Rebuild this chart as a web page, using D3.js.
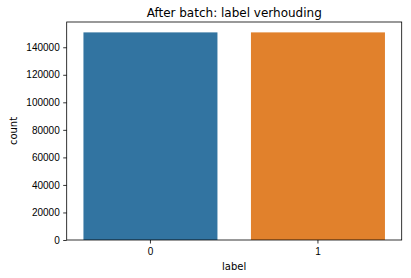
<!DOCTYPE html>
<html>
<head>
<meta charset="utf-8">
<script src="https://cdn.jsdelivr.net/npm/d3@7"></script>
<style>
    body { margin: 0; background: #fff; }
    svg { display: block; font-family: "DejaVu Sans", sans-serif; }
    .axis text { font-size: 10px; fill: #000; }
    .axis path, .axis line { stroke: #000; stroke-width: 0.8; }
</style>
</head>
<body>
<svg id="chart"></svg>
<script>
// categories and counts
const labels = ["0", "1"];
const counts = [150800, 150800];
const yTicks = [0, 20000, 40000, 60000, 80000, 100000, 120000, 140000];
const colors = ["#3274a1", "#e1812c"];

const W = 411, H = 278;
const margin = { top: 22, right: 9.3, bottom: 38, left: 66.7 };
const width = W - margin.left - margin.right;
const height = H - margin.top - margin.bottom;

const svg = d3.select("#chart").attr("width", W).attr("height", H);
const g = svg.append("g").attr("transform", `translate(${margin.left},${margin.top})`);

const x = d3.scaleBand().domain(labels).range([0, width]).paddingInner(0.2).paddingOuter(0.1);
const y = d3.scaleLinear().domain([0, d3.max(counts) * 1.05]).range([height, 0]);

// bars
g.selectAll("rect.bar")
    .data(labels)
    .enter()
    .append("rect")
    .attr("class", "bar")
    .attr("x", (d) => x(d))
    .attr("width", x.bandwidth())
    .attr("y", (d, i) => y(counts[i]))
    .attr("height", (d, i) => height - y(counts[i]))
    .attr("fill", (d, i) => colors[i]);

// axes
g.append("g")
    .attr("class", "axis")
    .attr("transform", `translate(0,${height})`)
    .call(d3.axisBottom(x).tickSize(3.5).tickPadding(3.5).tickSizeOuter(0))
    .call((a) => a.select(".domain").remove())
    .selectAll("text").attr("dy", "0.75em");

g.append("g")
    .attr("class", "axis")
    .call(d3.axisLeft(y).tickValues(yTicks).tickFormat(d3.format("d")).tickSize(3.5).tickPadding(3.5))
    .call((a) => a.select(".domain").remove());

// frame
g.append("rect")
    .attr("width", width)
    .attr("height", height)
    .attr("fill", "none")
    .attr("stroke", "#000")
    .attr("stroke-width", 0.8);

// title and labels
svg.append("text")
    .attr("x", margin.left + width / 2)
    .attr("y", 17)
    .attr("text-anchor", "middle")
    .style("font-size", "12px")
    .text("After batch: label verhouding");

svg.append("text")
    .attr("x", margin.left + width / 2)
    .attr("y", 270)
    .attr("text-anchor", "middle")
    .style("font-size", "10px")
    .text("label");

svg.append("text")
    .attr("transform", `translate(17,${margin.top + height / 2}) rotate(-90)`)
    .attr("text-anchor", "middle")
    .style("font-size", "10px")
    .text("count");
</script>
</body>
</html>
